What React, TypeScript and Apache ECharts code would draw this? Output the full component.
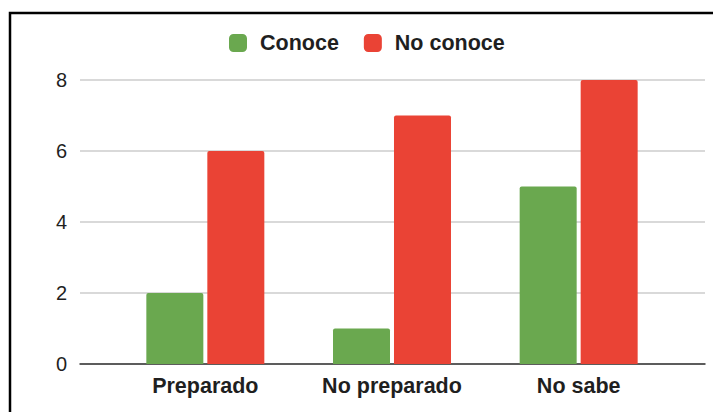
import React, { useEffect, useRef } from "react";
import * as echarts from "echarts";

const categories = ["Preparado", "No preparado", "No sabe"];
const conoce = [2, 1, 5];
const noConoce = [6, 7, 8];
const yTicks = [0, 2, 4, 6, 8];

export default function App() {
  const ref = useRef<HTMLDivElement>(null);
  useEffect(() => {
    const chart = echarts.init(ref.current!, null, { renderer: "svg" });
    const font = "'Liberation Sans', Arial, sans-serif";
    chart.setOption({
      animation: false,
      backgroundColor: "#ffffff",
      legend: {
        left: 224,
        top: 27,
        itemWidth: 18,
        itemHeight: 18,
        itemGap: 25,
        icon: "roundRect",
        data: ["Conoce", "No conoce"],
        textStyle: {
          fontFamily: font,
          fontWeight: "bold",
          fontSize: 21.5,
          color: "#1f1f1f",
          padding: [0, 0, 0, 8],
        },
      },
      graphic: [
        {
          type: "rect",
          shape: { x: 10, y: 13, width: 760, height: 460 },
          style: { fill: "none", stroke: "#000000", lineWidth: 2.5 },
          silent: true,
        },
      ],
      grid: [
        { left: 80, right: 8, top: 80, bottom: 48 },
        { left: 112, right: 41, top: 80, bottom: 48 },
      ],
      xAxis: [
        {
          gridIndex: 0,
          type: "category",
          data: [""],
          axisLine: { show: true, lineStyle: { color: "#333333", width: 1.5 } },
          axisTick: { show: false },
          axisLabel: { show: false },
        },
        {
          gridIndex: 1,
          type: "category",
          data: categories,
          axisLine: { show: false },
          axisTick: { show: false },
          axisLabel: {
            fontFamily: font,
            fontWeight: "bold",
            fontSize: 21.5,
            color: "#1f1f1f",
            margin: 11,
          },
        },
      ],
      yAxis: [
        {
          gridIndex: 0,
          type: "value",
          min: yTicks[0],
          max: yTicks[yTicks.length - 1],
          interval: 2,
          axisLine: { show: false },
          axisTick: { show: false },
          axisLabel: {
            fontFamily: font,
            fontSize: 20,
            color: "#1f1f1f",
            margin: 13,
          },
          splitLine: { lineStyle: { color: "#cccccc", width: 1.5 } },
        },
        {
          gridIndex: 1,
          type: "value",
          min: yTicks[0],
          max: yTicks[yTicks.length - 1],
          interval: 2,
          show: false,
          splitLine: { show: false },
        },
      ],
      series: [
        {
          name: "Conoce",
          type: "bar",
          xAxisIndex: 1,
          yAxisIndex: 1,
          data: conoce,
          barWidth: 57,
          barGap: "7%",
          itemStyle: { color: "#6aa84f", borderRadius: [2, 2, 0, 0] },
        },
        {
          name: "No conoce",
          type: "bar",
          xAxisIndex: 1,
          yAxisIndex: 1,
          data: noConoce,
          barWidth: 57,
          barGap: "7%",
          itemStyle: { color: "#ea4335", borderRadius: [2, 2, 0, 0] },
        },
      ],
    });
    return () => chart.dispose();
  }, []);
  return (
    <div
      ref={ref}
      style={{ position: "absolute", left: 0, top: 0, width: 713, height: 412 }}
    />
  );
}
